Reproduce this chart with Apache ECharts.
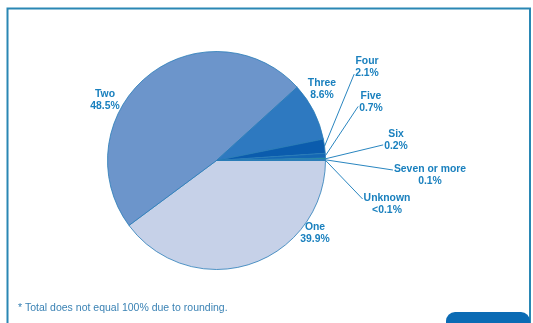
<!DOCTYPE html>
<html>
<head>
<meta charset="utf-8">
<script src="https://cdn.jsdelivr.net/npm/echarts@6/dist/echarts.min.js"></script>
<style>
html,body{margin:0;padding:0;background:#fff;}
#chart{width:533px;height:323px;}
</style>
</head>
<body>
<div id="chart"></div>
<script>
// Data
const categories = ['One', 'Two', 'Three', 'Four', 'Five', 'Six', 'Seven or more', 'Unknown'];
const values = [39.9, 48.5, 8.6, 2.1, 0.7, 0.2, 0.1, 0.05];
const valueLabels = ['39.9%', '48.5%', '8.6%', '2.1%', '0.7%', '0.2%', '0.1%', '<0.1%'];
const footnote = '* Total does not equal 100% due to rounding.';

// Styles
const sliceColors = ['#c6d1e8', '#6c95cb', '#2e79c0', '#0b5cad', '#1467b3', '#1e9c7e', '#2a8ab8', '#5fa3d4'];
const labelCenters = [[315, 233.5], [105, 100.5], [322, 89], [367, 67.5], [371, 102], [396, 140.5], [430, 175.5], [387, 204.5]];
const showLine = [false, false, false, true, true, true, true, true];
const lineEndShift = [0, 0, 0, 0.3, 0.2, 0.2, -0.25, -0.25];
const textColor = '#1a80be';

const chart = echarts.init(document.getElementById('chart'), null, {renderer: 'canvas'});

const data = categories.map((c, i) => ({
  name: c,
  value: values[i],
  itemStyle: {color: sliceColors[i]},
  labelLine: {show: showLine[i]}
}));

chart.setOption({
  animation: false,
  backgroundColor: '#ffffff',
  graphic: [
    {
      type: 'rect',
      shape: {x: 7.5, y: 8.5, width: 522.5, height: 340},
      style: {fill: 'none', stroke: '#2a87b4', lineWidth: 2},
      z: 0
    },
    {
      type: 'rect',
      shape: {x: 446, y: 312, width: 84, height: 30, r: 9},
      style: {fill: '#0b6bb4'},
      z: 1
    },
    {
      type: 'text',
      left: 18,
      top: 303,
      style: {
        text: footnote,
        fill: '#3a82b4',
        font: '10.5px "Liberation Sans", Arial, sans-serif'
      },
      z: 2
    }
  ],
  series: [{
    type: 'pie',
    center: [216.5, 160.5],
    radius: 109,
    startAngle: 0,
    clockwise: true,
    avoidLabelOverlap: false,
    itemStyle: {borderColor: '#2a7cb8', borderWidth: 0.8},
    emphasis: {disabled: true},
    label: {
      show: true,
      position: 'outside',
      formatter: (p) => '{n|' + p.name + '}\n{n|' + valueLabels[p.dataIndex] + '}',
      rich: {
        n: {
          color: textColor,
          fontFamily: '"Liberation Sans", Arial, sans-serif',
          fontWeight: 'bold',
          fontSize: 10.4,
          lineHeight: 12,
          align: 'center'
        }
      }
    },
    labelLine: {
      show: true,
      length: 10,
      length2: 0,
      lineStyle: {color: '#2a86c0', width: 1}
    },
    labelLayout: function (params) {
      const i = params.dataIndex;
      const c = labelCenters[i];
      const w = params.labelRect.width;
      const h = params.labelRect.height;
      const res = {x: c[0], y: c[1], align: 'center', verticalAlign: 'middle'};
      if (showLine[i] && params.labelLinePoints) {
        const start = params.labelLinePoints[0];
        const end = [c[0] - w / 2 - 1, c[1] + h * lineEndShift[i]];
        res.labelLinePoints = [start, end, end];
      }
      return res;
    },
    data: data
  }]
});
</script>
</body>
</html>
